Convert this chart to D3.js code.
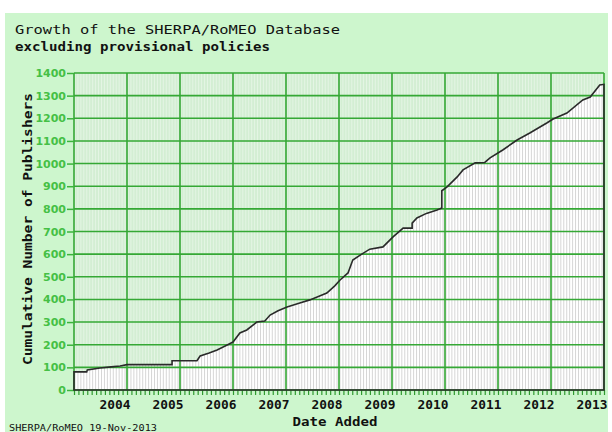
<!DOCTYPE html>
<html>
<head>
<meta charset="utf-8">
<script src="https://cdnjs.cloudflare.com/ajax/libs/d3/7.8.5/d3.min.js"></script>
<style>
  body { margin: 0; background: #ffffff; }
</style>
</head>
<body>
<div id="chart"></div>
<script>
// data: decimal year and cumulative publishers
var dates = [2003.0, 2003.24, 2003.25, 2003.49, 2003.7, 2003.87, 2004.0, 2004.85, 2004.85, 2005.32,
  2005.38, 2005.55, 2005.7, 2005.89, 2006.0, 2006.13, 2006.26, 2006.45, 2006.6, 2006.7,
  2006.85, 2007.02, 2007.26, 2007.45, 2007.6, 2007.77, 2007.92, 2008.02, 2008.17, 2008.26,
  2008.4, 2008.58, 2008.83, 2009.02, 2009.21, 2009.38, 2009.38, 2009.47, 2009.65, 2009.85,
  2009.94, 2009.94, 2010.04, 2010.23, 2010.34, 2010.57, 2010.75, 2010.85, 2011.09, 2011.36,
  2011.6, 2011.92, 2012.04, 2012.3, 2012.6, 2012.74, 2012.92, 2013.0]
var publishers = [80, 80, 88, 97, 102, 106, 112, 112, 129, 129,
  150, 163, 177, 199, 212, 252, 265, 300, 305, 331,
  350, 367, 384, 398, 412, 428, 460, 486, 517, 574,
  596, 622, 632, 676, 715, 715, 737, 760, 780, 795,
  804, 880, 897, 941, 972, 1003, 1005, 1025, 1060, 1104,
  1135, 1179, 1197, 1223, 1281, 1294, 1347, 1350]
var yearLabels = ["2004", "2005", "2006", "2007", "2008", "2009", "2010", "2011", "2012", "2013"]
var yTicks = d3.range(0, 1401, 100)

var data = dates.map(function (d, i) { return {t: d, v: publishers[i]} })

var margin = {top: 73, right: 8, bottom: 42, left: 74},
    width = 612 - margin.left - margin.right,
    height = 432 - margin.top - margin.bottom;

var root = d3.select("#chart").append("svg")
    .attr("width", 612)
    .attr("height", 432)

// light green page background
root.append("rect")
    .attr("x", 5).attr("y", 13)
    .attr("width", 603).attr("height", 419)
    .style("fill", "#cdf6cd")

var svg = root.append("g")
    .attr("transform", "translate(" + margin.left + "," + margin.top + ")")

var x = d3.scaleLinear().domain([2003, 2013]).range([0, 530])
var y = d3.scaleLinear().domain([0, 1400]).range([317, 0])

// plot background with faint stripes
svg.append("rect")
    .attr("width", 530).attr("height", 317)
    .style("fill", "#d3eed3")

var stripes = d3.range(2003, 2013, 1 / 18)
svg.append("g").selectAll("line")
  .data(stripes)
  .enter().append("line")
    .attr("x1", function (d) { return x(d) + 1 })
    .attr("x2", function (d) { return x(d) + 1 })
    .attr("y1", 0).attr("y2", 317)
    .style("stroke", "#e4f5e4")

// area under the curve: white with grey stripes
var area = d3.area()
    .x(function (d) { return x(d.t) })
    .y0(y(0))
    .y1(function (d) { return y(d.v) })

svg.append("clipPath").attr("id", "under")
  .append("path").datum(data).attr("d", area)

svg.append("path").datum(data)
    .attr("d", area)
    .style("fill", "#ffffff")

svg.append("g").attr("clip-path", "url(#under)")
  .selectAll("line")
  .data(stripes)
  .enter().append("line")
    .attr("x1", function (d) { return x(d) + 1 })
    .attr("x2", function (d) { return x(d) + 1 })
    .attr("y1", 0).attr("y2", 317)
    .style("stroke", "#d6d6d6")

// grid lines
svg.append("g").selectAll("line")
  .data(yTicks)
  .enter().append("line")
    .attr("x1", 0).attr("x2", 530)
    .attr("y1", function (d) { return y(d) })
    .attr("y2", function (d) { return y(d) })
    .style("stroke", "#35a835")
    .style("stroke-width", 1.6)

svg.append("g").selectAll("line")
  .data(d3.range(2003, 2014))
  .enter().append("line")
    .attr("x1", function (d) { return x(d) })
    .attr("x2", function (d) { return x(d) })
    .attr("y1", 0).attr("y2", 317)
    .style("stroke", "#35a835")
    .style("stroke-width", 1.6)

// Y axis
var yAxis = svg.append("g")
    .call(d3.axisLeft(y).tickValues(yTicks).tickSize(7).tickSizeOuter(0).tickPadding(1)
      .tickFormat(d3.format("d")))
yAxis.select(".domain").remove()
yAxis.selectAll(".tick line").attr("stroke", "#3cb43c").attr("stroke-width", 1.5)
yAxis.selectAll(".tick text")
    .style("fill", "#45c045")
    .style("font-family", "DejaVu Sans")
    .style("font-size", "11px")
    .style("font-weight", "bold")

// monthly ticks under the plot
var mAxis = svg.append("g")
    .attr("transform", "translate(0," + 317 + ")")
    .call(d3.axisBottom(x).tickValues(d3.range(2003, 2013.01, 1 / 12)).tickSize(5).tickFormat(""))
mAxis.select(".domain").remove()
mAxis.selectAll(".tick line").attr("stroke", "#2f9a2f").attr("stroke-width", 1.2)

// year labels, right aligned on the year line
var xAxis = svg.append("g")
    .attr("transform", "translate(0," + 317 + ")")
    .call(d3.axisBottom(x).tickValues(d3.range(2004, 2014)).tickSize(0).tickPadding(10)
      .tickFormat(function (d, i) { return yearLabels[i] }))
xAxis.select(".domain").remove()
xAxis.selectAll(".tick text")
    .attr("text-anchor", "end")
    .attr("dx", 3)
    .attr("textLength", 31)
    .attr("lengthAdjust", "spacingAndGlyphs")
    .style("fill", "#111")
    .style("font-family", "DejaVu Sans Mono")
    .style("font-size", "12px")
    .style("font-weight", "bold")

// the curve outline, closed down to zero
svg.append("path").datum(data)
    .attr("d", area)
    .style("fill", "none")
    .style("stroke", "#2a2a2a")
    .style("stroke-width", 1.6)

// titles
root.append("text")
    .attr("x", 15).attr("y", 34)
    .attr("textLength", 325).attr("lengthAdjust", "spacingAndGlyphs")
    .text("Growth of the SHERPA/RoMEO Database")
    .style("font-family", "DejaVu Sans Mono")
    .style("font-size", "13px")
    .style("fill", "#111")

root.append("text")
    .attr("x", 15).attr("y", 51)
    .attr("textLength", 255).attr("lengthAdjust", "spacingAndGlyphs")
    .text("excluding provisional policies")
    .style("font-family", "DejaVu Sans Mono")
    .style("font-size", "12px")
    .style("font-weight", "bold")
    .style("fill", "#111")

root.append("text")
    .attr("transform", "translate(32,229) rotate(-90)")
    .attr("text-anchor", "middle")
    .attr("textLength", 272).attr("lengthAdjust", "spacingAndGlyphs")
    .text("Cumulative Number of Publishers")
    .style("font-family", "DejaVu Sans Mono")
    .style("font-size", "12px")
    .style("font-weight", "bold")
    .style("fill", "#111")

root.append("text")
    .attr("x", 335).attr("y", 426)
    .attr("text-anchor", "middle")
    .attr("textLength", 85).attr("lengthAdjust", "spacingAndGlyphs")
    .text("Date Added")
    .style("font-family", "DejaVu Sans Mono")
    .style("font-size", "12px")
    .style("font-weight", "bold")
    .style("fill", "#111")

root.append("text")
    .attr("x", 9).attr("y", 431)
    .attr("textLength", 148).attr("lengthAdjust", "spacingAndGlyphs")
    .text("SHERPA/RoMEO 19-Nov-2013")
    .style("font-family", "DejaVu Sans Mono")
    .style("font-size", "8px")
    .style("fill", "#111")
</script>
</body>
</html>
